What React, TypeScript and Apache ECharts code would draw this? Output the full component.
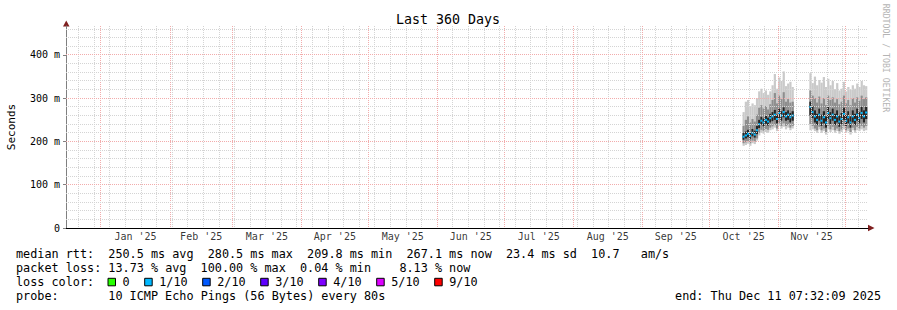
import React, { useEffect, useRef } from 'react';
import * as echarts from 'echarts';

const DAY = 86400000;
const END_TS = Date.UTC(2025, 11, 11, 7, 32, 9);
const START_TS = END_TS - 360 * DAY;
const Y_MAX = 467;
const MONO = 'DejaVu Sans Mono';

const titleText = 'Last 360 Days';
const yAxisTitle = 'Seconds';
const watermark = 'RRDTOOL / TOBI OETIKER';
const monthLabels = ["Jan '25", "Feb '25", "Mar '25", "Apr '25", "May '25", "Jun '25", "Jul '25", "Aug '25", "Sep '25", "Oct '25", "Nov '25"];
const yLabelTicks = [0, 100, 200, 300, 400];

const statsRtt = 'median rtt:  250.5 ms avg  280.5 ms max  209.8 ms min  267.1 ms now  23.4 ms sd  10.7   am/s';
const statsLoss = 'packet loss: 13.73 % avg  100.00 % max  0.04 % min    8.13 % now';
const lossTitle = 'loss color:';
const lossLabels = ['0', '1/10', '2/10', '3/10', '4/10', '5/10', '9/10'];
const lossColors = ['#26ff00', '#00b8ff', '#0059ff', '#5e00ff', '#7e00ff', '#dd00ff', '#ff0000'];
const probeText = 'probe:       10 ICMP Echo Pings (56 Bytes) every 80s';
const endText = 'end: Thu Dec 11 07:32:09 2025';

// segment 1: daily values from 2025-10-16
const seg1Start = '2025-10-16';
const seg1Median = [211, 214, 218, 213, 220, 216, 226, 240, 248, 244, 250, 246, 254, 258, 262, 252, 266, 260, 268, 258, 262, 256, 260];
const seg1CoreLo = [204, 207, 210, 206, 212, 209, 217, 231, 239, 235, 241, 237, 244, 247, 250, 242, 254, 248, 256, 248, 250, 244, 248];
const seg1CoreHi = [220, 223, 227, 221, 229, 225, 236, 250, 257, 253, 259, 255, 264, 268, 273, 262, 276, 270, 279, 268, 272, 266, 270];
const seg1MidLo = [196, 198, 201, 196, 202, 200, 207, 220, 227, 225, 229, 227, 232, 235, 238, 230, 242, 236, 242, 236, 238, 232, 236];
const seg1MidHi = [236, 250, 258, 244, 252, 246, 262, 278, 284, 276, 282, 274, 286, 296, 312, 288, 306, 298, 314, 292, 298, 290, 292];
const seg1Min = [190, 192, 195, 190, 196, 194, 202, 214, 220, 218, 222, 220, 226, 228, 232, 224, 236, 230, 234, 228, 232, 226, 230];
const seg1Max = [268, 292, 296, 282, 288, 284, 300, 316, 322, 312, 318, 308, 316, 330, 356, 322, 348, 340, 362, 328, 334, 338, 326];

// segment 2: daily values from 2025-11-15
const seg2Start = '2025-11-15';
const seg2Median = [280, 268, 258, 250, 262, 248, 256, 244, 266, 254, 262, 250, 258, 246, 252, 264, 248, 256, 244, 258, 250, 262, 254, 266, 258, 267];
const seg2CoreLo = [260, 254, 244, 238, 248, 236, 242, 232, 252, 240, 248, 238, 244, 234, 240, 250, 236, 242, 232, 244, 238, 248, 242, 252, 244, 252];
const seg2CoreHi = [292, 282, 272, 264, 276, 262, 270, 258, 280, 268, 276, 264, 272, 260, 266, 278, 262, 270, 258, 272, 264, 276, 268, 280, 272, 280];
const seg2MidLo = [240, 236, 230, 226, 234, 226, 230, 222, 236, 228, 234, 226, 230, 224, 228, 236, 226, 230, 222, 232, 226, 234, 230, 236, 232, 236];
const seg2MidHi = [318, 306, 300, 290, 304, 288, 300, 284, 306, 296, 302, 290, 298, 286, 292, 306, 288, 296, 284, 300, 290, 302, 294, 306, 298, 302];
const seg2Min = [226, 228, 224, 220, 228, 220, 224, 216, 228, 222, 226, 220, 224, 218, 222, 228, 220, 224, 216, 226, 220, 226, 224, 228, 224, 226];
const seg2Max = [358, 335, 350, 330, 342, 336, 349, 326, 345, 330, 340, 321, 335, 318, 322, 338, 316, 326, 320, 330, 322, 334, 326, 340, 330, 328];

function buildRows(start: string, min: number[], midLo: number[], coreLo: number[], med: number[], coreHi: number[], midHi: number[], max: number[]) {
  const t0 = Date.parse(start + 'T00:00:00Z');
  return med.map((m, i) => [t0 + i * DAY, min[i], midLo[i], coreLo[i], m, coreHi[i], midHi[i], max[i]]);
}

const rows = [
  ...buildRows(seg1Start, seg1Min, seg1MidLo, seg1CoreLo, seg1Median, seg1CoreHi, seg1MidHi, seg1Max),
  ...buildRows(seg2Start, seg2Min, seg2MidLo, seg2CoreLo, seg2Median, seg2CoreHi, seg2MidHi, seg2Max),
];

const monthStarts: number[] = [];
for (let m = 0; m <= 11; m++) monthStarts.push(Date.UTC(2025, m, 1));
const monthMids = monthLabels.map((_, i) => (monthStarts[i] + monthStarts[i + 1]) / 2);

const weekLines: number[] = [];
for (let t = Date.UTC(2024, 11, 22); t < END_TS; t += 7 * DAY) weekLines.push(t);

const minorY: number[] = [];
for (let v = 20; v < Y_MAX; v += 20) if (v % 100 !== 0) minorY.push(v);
const majorY = yLabelTicks.filter((v) => v > 0);

const LEG_X = 16;
const CH = 7.1;
const LEG_FS = 11.8;
const lineY = [254.3, 268.3, 282.3, 296.3];

const MINOR_COLOR = '#d4d4d4';
const MAJOR_COLOR = '#f2acac';

function runs(line: string) {
  const out: { col: number; text: string }[] = [];
  const re = /\S+(?: \S+)*/g;
  let m: RegExpExecArray | null;
  while ((m = re.exec(line))) out.push({ col: m.index, text: m[0] });
  return out;
}

function textEl(text: string, x: number, y: number, extra: any = {}) {
  return {
    type: 'text',
    x,
    y,
    silent: true,
    style: { text, fill: '#000', font: `${LEG_FS}px "${MONO}"`, verticalAlign: 'middle', align: 'left', ...extra },
  };
}

export default function App() {
  const ref = useRef<HTMLDivElement>(null);

  useEffect(() => {
    document.body.style.margin = '0';
    if (!ref.current) return;
    const chart = echarts.init(ref.current, null, { renderer: 'svg' });

    const graphics: any[] = [];
    graphics.push(textEl(titleText, 448, 19, { align: 'center', font: `13.3px "${MONO}"` }));
    graphics.push({
      type: 'text', x: 11, y: 127, rotation: Math.PI / 2, silent: true,
      style: { text: yAxisTitle, fill: '#000', font: `11px "${MONO}"`, align: 'center', verticalAlign: 'middle' },
    });
    graphics.push({
      type: 'text', x: 886, y: 58, rotation: -Math.PI / 2, silent: true,
      style: { text: watermark, fill: '#b4b4b4', font: `8.2px "${MONO}"`, align: 'center', verticalAlign: 'middle' },
    });
    graphics.push({ type: 'polygon', silent: true, shape: { points: [[63, 26.5], [69.5, 26.5], [66.25, 20.5]] }, style: { fill: '#7f1f1f' } });
    graphics.push({ type: 'polygon', silent: true, shape: { points: [[868, 224.8], [868, 231.2], [874.5, 228]] }, style: { fill: '#7f1f1f' } });

    [statsRtt, statsLoss].forEach((line, li) => {
      runs(line).forEach((r) => graphics.push(textEl(r.text, LEG_X + r.col * CH, lineY[li])));
    });
    graphics.push(textEl(lossTitle, LEG_X, lineY[2]));
    let lx = 122.5;
    lossLabels.forEach((lab, i) => {
      graphics.push({
        type: 'rect', silent: true,
        shape: { x: lx - 14.5, y: lineY[2] - 4, width: 7.5, height: 7.5 },
        style: { fill: lossColors[i], stroke: '#000', lineWidth: 1 },
      });
      graphics.push(textEl(lab, lx, lineY[2]));
      lx += lab.length * CH + 29.6;
    });
    runs(probeText).forEach((r) => graphics.push(textEl(r.text, LEG_X + r.col * CH, lineY[3])));
    graphics.push(textEl(endText, 881, lineY[3], { align: 'right' }));

    const vGridRows = [
      ...weekLines.map((t) => [t, 0, 0]),
      ...monthStarts.filter((t) => t > START_TS && t < END_TS).map((t) => [t, 0, 1]),
    ];
    const hGridRows = [
      ...minorY.map((v) => [START_TS, v, 0]),
      ...majorY.map((v) => [START_TS, v, 1]),
    ];

    const option: any = {
      animation: false,
      graphic: { elements: graphics },
      grid: { left: 66, right: 29, top: 26, bottom: 82 },
      xAxis: {
        type: 'value', min: START_TS, max: END_TS,
        axisLine: { show: true, onZero: false, lineStyle: { color: '#000', width: 1 } },
        axisTick: { show: false }, axisLabel: { show: false }, splitLine: { show: false },
      },
      yAxis: {
        type: 'value', min: 0, max: Y_MAX, interval: 100,
        axisLine: { show: true, lineStyle: { color: '#808080', width: 1 } },
        axisTick: { show: true, length: 3, lineStyle: { color: '#808080' } },
        axisLabel: {
          show: true, margin: 6, fontFamily: MONO, fontSize: 10, color: '#000', showMaxLabel: false,
          formatter: (v: number) => (yLabelTicks.includes(v) ? (v === 0 ? '0' : `${v} m`) : ''),
        },
        splitLine: { show: false },
      },
      series: [
        {
          type: 'custom',
          name: 'smoke',
          data: rows,
          z: 2,
          silent: true,
          encode: { x: 0, y: [1, 7] },
          renderItem: (params: any, api: any) => {
            const t = api.value(0);
            const xa = api.coord([t, 0])[0];
            const xb = api.coord([t + DAY, 0])[0];
            const w = xb - xa;
            const band = (lo: number, hi: number, fill: string) => {
              const y1 = api.coord([t, hi])[1];
              const y0 = api.coord([t, lo])[1];
              return { type: 'rect', shape: { x: xa, y: y1, width: w, height: y0 - y1 }, style: { fill } };
            };
            const ym = api.coord([t, api.value(4)])[1];
            return {
              type: 'group',
              children: [
                band(api.value(1), api.value(7), '#cacaca'),
                band(api.value(2), api.value(6), '#8e8e8e'),
                band(api.value(3), api.value(5), '#262626'),
                { type: 'rect', shape: { x: xa, y: ym - 1, width: w, height: 2 }, style: { fill: '#00b8ff' } },
              ],
            };
          },
        },
        {
          type: 'custom',
          name: 'vgrid',
          data: vGridRows,
          z: 4,
          silent: true,
          encode: { x: 0, y: 1 },
          renderItem: (params: any, api: any) => {
            const x = Math.floor(api.coord([api.value(0), 0])[0]) + 0.5;
            const yTop = params.coordSys.y;
            const yBot = params.coordSys.y + params.coordSys.height;
            const major = api.value(2) === 1;
            return {
              type: 'line',
              shape: { x1: x, y1: yTop, x2: x, y2: yBot },
              style: { stroke: major ? MAJOR_COLOR : MINOR_COLOR, lineWidth: 1, lineDash: [1, 1] },
            };
          },
        },
        {
          type: 'custom',
          name: 'hgrid',
          data: hGridRows,
          z: 5,
          silent: true,
          encode: { x: 0, y: 1 },
          renderItem: (params: any, api: any) => {
            const y = Math.floor(api.coord([START_TS, api.value(1)])[1]) + 0.5;
            const xL = params.coordSys.x;
            const xR = params.coordSys.x + params.coordSys.width;
            const major = api.value(2) === 1;
            return {
              type: 'line',
              shape: { x1: xL, y1: y, x2: xR, y2: y },
              style: { stroke: major ? MAJOR_COLOR : MINOR_COLOR, lineWidth: 1, lineDash: [1, 1] },
            };
          },
        },
        {
          type: 'scatter',
          name: 'months',
          silent: true,
          symbolSize: 0.1,
          itemStyle: { color: 'transparent' },
          data: monthMids.map((t, i) => [t, 0, monthLabels[i]]),
          label: {
            show: true, position: 'bottom', distance: 3,
            formatter: (p: any) => p.data[2],
            fontFamily: MONO, fontSize: 10, color: '#000',
          },
          z: 10,
        },
      ],
    };

    chart.setOption(option);
    return () => chart.dispose();
  }, []);

  return <div ref={ref} style={{ width: 897, height: 310 }} />;
}
